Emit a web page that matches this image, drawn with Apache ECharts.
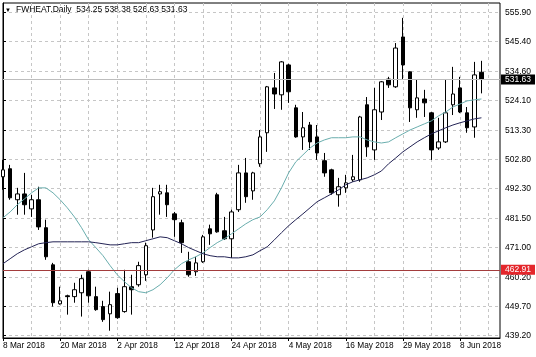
<!DOCTYPE html>
<html>
<head>
<meta charset="utf-8">
<script src="https://cdn.jsdelivr.net/npm/echarts@6/dist/echarts.min.js"></script>
<style>
html,body{margin:0;padding:0;background:#fff;}
#chart{width:536px;height:357px;}
</style>
</head>
<body>
<div id="chart"></div>
<script>
// ---- data ----
const symbolName = 'FWHEAT.Daily';
const lastOHLC = ['534.25', '538.38', '526.63', '531.63'];
const dateLabels = ['8 Mar 2018', '20 Mar 2018', '2 Apr 2018', '12 Apr 2018', '24 Apr 2018', '4 May 2018', '16 May 2018', '29 May 2018', '8 Jun 2018'];
const barsPerDateLabel = 8;
const yTickLabels = ['439.20', '449.70', '460.20', '471.00', '481.50', '492.30', '502.80', '513.30', '524.10', '534.60', '545.40', '555.90'];
const currentPrice = 531.63;
const levelPrice = 462.91;

const opens = [496.5, 499.4, 488.2, 490.3, 484.9, 488.2, 478.1, 464.7, 450.6, 453.5,
  453.2, 454.6, 462.2, 453.2, 449.6, 447.0, 454.3, 447.8, 456.8, 457.5,
  461.1, 477.3, 490.3, 490.7, 483.1, 479.9, 465.8, 462.2, 465.8, 477.7,
  490.0, 477.0, 474.1, 484.6, 497.9, 491.4, 501.2, 512.4, 528.6, 526.1,
  536.9, 521.4, 510.9, 515.2, 510.9, 502.3, 499.0, 490.0, 492.5, 495.4,
  495.4, 522.5, 506.2, 519.9, 531.8, 529.0, 547.0, 534.4, 520.7, 524.6,
  519.6, 506.9, 509.1, 522.5, 528.6, 519.6, 514.5, 534.25];
const closes = [499.0, 488.9, 490.3, 486.4, 488.2, 478.4, 467.6, 451.0, 451.7, 453.2,
  455.7, 459.7, 453.5, 448.5, 444.9, 450.3, 445.6, 456.8, 455.7, 464.4,
  471.6, 489.3, 491.1, 486.4, 481.0, 472.7, 461.1, 465.4, 474.8, 475.9,
  476.6, 474.1, 483.8, 497.9, 489.3, 497.9, 510.9, 529.0, 526.4, 538.0,
  527.2, 510.9, 514.2, 509.1, 505.1, 497.9, 490.7, 492.9, 494.3, 496.5,
  518.1, 507.3, 520.7, 530.8, 529.7, 543.0, 536.9, 521.4, 525.0, 523.2,
  506.2, 509.1, 519.6, 526.4, 519.9, 514.2, 533.3, 531.63];
const lows = [491.8, 488.2, 482.8, 482.8, 482.0, 477.3, 466.5, 449.6, 450.3, 446.7,
  451.0, 446.0, 451.0, 448.1, 444.1, 440.9, 445.2, 447.4, 446.7, 456.8,
  458.9, 474.5, 482.8, 482.0, 474.8, 469.0, 460.4, 460.7, 465.4, 471.9,
  476.3, 473.7, 467.2, 483.8, 487.1, 488.2, 500.1, 505.5, 521.0, 520.7,
  523.2, 510.6, 506.2, 506.2, 502.6, 496.5, 490.0, 485.7, 490.7, 494.7,
  494.7, 503.7, 502.6, 517.0, 528.6, 528.6, 531.5, 516.3, 517.8, 518.1,
  502.6, 506.2, 508.7, 518.8, 519.5, 512.4, 510.6, 526.63];
const highs = [502.6, 500.8, 492.5, 497.9, 490.0, 492.9, 481.0, 465.4, 456.8, 453.9,
  458.2, 461.1, 462.9, 456.8, 451.7, 455.0, 456.4, 462.9, 461.1, 465.8,
  472.7, 492.5, 493.6, 493.6, 483.8, 481.0, 469.4, 467.6, 475.5, 479.2,
  490.7, 482.0, 484.6, 500.8, 503.3, 498.3, 513.4, 529.3, 534.0, 538.3,
  537.3, 522.5, 519.9, 516.3, 515.2, 505.1, 499.4, 496.1, 497.2, 504.4,
  518.5, 525.3, 528.6, 531.1, 532.6, 544.8, 553.9, 534.6, 531.5, 527.9,
  519.9, 517.8, 531.5, 536.2, 532.6, 521.7, 538.0, 538.38];
const maFast = [481.7, 483.8, 486.4, 488.5, 490.7, 492.5, 492.5, 490.7, 488.2, 485.3,
  482.0, 478.1, 473.7, 470.9, 468.0, 464.4, 461.1, 458.6, 456.4, 455.0,
  454.6, 455.7, 457.5, 460.0, 462.9, 465.1, 466.5, 467.6, 469.0, 470.9,
  472.7, 474.1, 475.9, 477.7, 479.5, 481.0, 482.0, 484.6, 487.8, 492.5,
  497.9, 501.9, 504.4, 506.9, 508.7, 509.8, 510.6, 510.6, 510.6, 510.9,
  510.9, 509.8, 509.1, 508.7, 509.1, 510.6, 512.0, 513.4, 514.5, 515.6,
  516.7, 518.5, 519.9, 521.7, 522.8, 523.9, 524.3, 524.6];
const maSlow = [465.1, 466.9, 468.7, 470.1, 471.2, 472.3, 472.7, 473.0, 473.0, 473.0,
  473.0, 473.0, 473.0, 472.7, 472.3, 471.9, 471.9, 472.3, 472.7, 472.7,
  473.4, 474.1, 474.8, 474.5, 473.4, 472.3, 470.9, 469.8, 468.7, 468.0,
  467.6, 467.6, 467.2, 467.2, 467.6, 468.3, 469.8, 471.2, 473.7, 476.3,
  478.8, 481.0, 483.1, 485.3, 487.5, 488.9, 490.3, 491.8, 493.6, 494.7,
  495.4, 496.1, 497.2, 498.6, 501.2, 503.3, 505.5, 507.3, 509.1, 510.6,
  512.0, 513.1, 514.2, 515.2, 516.0, 516.7, 517.4, 517.8];

// ---- build options ----
const FONT = 'Liberation Sans';
const candleData = opens.map((o, i) => [i, o, closes[i], lows[i], highs[i]]);
const fastData = maFast.map((v, i) => [i, v]);
const slowData = maSlow.map((v, i) => [i, v]);
const xTickValues = dateLabels.map((_, i) => i * barsPerDateLabel);
const yTickValues = yTickLabels.map(Number);
const gridLine = { color: '#c6c6c6', type: [3, 3], width: 1 };

const chart = echarts.init(document.getElementById('chart'), null, { renderer: 'canvas' });
chart.setOption({
  animation: false,
  backgroundColor: '#ffffff',
  graphic: [
    { type: 'text', left: 5, top: 7, style: { text: '\u25BC', font: '6px "' + FONT + '"', fill: '#000' } },
    { type: 'text', left: 16, top: 5, style: { text: symbolName + '  ' + lastOHLC.join(' '), font: '8.5px "' + FONT + '"', fill: '#000' } }
  ],
  grid: { left: 3, right: 36, top: 3, bottom: 19, show: true, borderColor: '#000', borderWidth: 1, backgroundColor: 'transparent' },
  xAxis: {
    type: 'value', min: 0, max: 69.6, interval: barsPerDateLabel,
    axisLine: { show: true, lineStyle: { color: '#000', width: 1 } },
    axisTick: { show: true, customValues: xTickValues, length: 3, lineStyle: { color: '#000' } },
    axisLabel: {
      customValues: xTickValues,
      formatter: v => dateLabels[Math.round(v / barsPerDateLabel)] || '',
      align: 'left', margin: 4, color: '#000', fontSize: 8.3, fontFamily: FONT
    },
    splitLine: { show: true, lineStyle: gridLine },
    minorTick: { show: false, splitNumber: 2 },
    minorSplitLine: { show: true, lineStyle: gridLine }
  },
  yAxis: {
    type: 'value', position: 'right', min: 438.26, max: 559.27, scale: true,
    axisLine: { show: true, lineStyle: { color: '#000', width: 1 } },
    axisTick: { show: true, customValues: yTickValues, length: 3, lineStyle: { color: '#000' } },
    axisLabel: {
      customValues: yTickValues,
      formatter: v => v.toFixed(2),
      margin: 5, color: '#000', fontSize: 8.5, fontFamily: FONT
    },
    splitLine: { show: true, lineStyle: gridLine }
  },
  series: [
    {
      type: 'candlestick',
      data: candleData,
      barWidth: 4,
      itemStyle: { color: '#ffffff', color0: '#000000', borderColor: '#000000', borderColor0: '#000000', borderWidth: 1 },
      markLine: {
        silent: true,
        symbol: ['none', 'none'],
        data: [
          {
            yAxis: currentPrice,
            lineStyle: { color: '#bdbdbd', type: 'solid', width: 1 },
            label: { show: true, position: 'end', distance: 1, formatter: currentPrice.toFixed(2), color: '#fff', backgroundColor: '#000', padding: [0, 4, 0, 4], lineHeight: 10, fontSize: 8.5, fontFamily: FONT }
          },
          {
            yAxis: levelPrice,
            lineStyle: { color: '#a33c3c', type: 'solid', width: 1 },
            label: { show: true, position: 'end', distance: 1, formatter: levelPrice.toFixed(2), color: '#fff', backgroundColor: '#e4262b', padding: [0, 4, 0, 4], lineHeight: 10, fontSize: 8.5, fontFamily: FONT }
          }
        ]
      }
    },
    {
      type: 'line', data: fastData, showSymbol: false, symbol: 'none',
      lineStyle: { color: '#6aaeae', width: 1 }, z: 3
    },
    {
      type: 'line', data: slowData, showSymbol: false, symbol: 'none',
      lineStyle: { color: '#232355', width: 1 }, z: 3
    }
  ]
});
</script>
</body>
</html>
